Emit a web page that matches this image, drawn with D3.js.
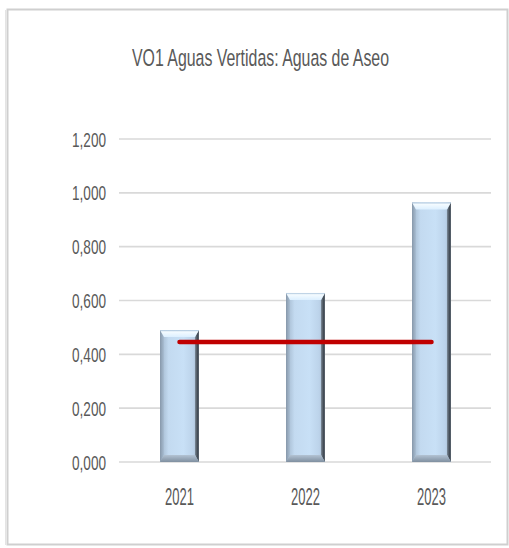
<!DOCTYPE html>
<html>
<head>
<meta charset="utf-8">
<script src="https://cdn.jsdelivr.net/npm/d3@7"></script>
<style>
  html, body { margin: 0; padding: 0; background: #ffffff; }
  svg { display: block; }
  text { font-family: "Liberation Sans", Arial, sans-serif; fill: #595959; }
</style>
</head>
<body>
<div id="chart"></div>
<script>
// Annual values for VO1 (wastewater from cleaning)
const years = ["2021", "2022", "2023"];
const values = [0.490, 0.628, 0.964];
// Reference level drawn as a red line across the years
const reference = [0.446, 0.446, 0.446];
const yTicks = [0, 0.2, 0.4, 0.6, 0.8, 1.0, 1.2];
const title = "VO1 Aguas Vertidas: Aguas de Aseo";

const W = 509, H = 548;
const svg = d3.select("#chart").append("svg").attr("width", W).attr("height", H);

// Chart frame
svg.append("rect").attr("x", 7.5).attr("y", 9.5).attr("width", 500).attr("height", 535)
  .attr("fill", "#fff").attr("stroke", "#cfcfcf").attr("stroke-width", 2);
svg.append("line").attr("x1", 5.5).attr("x2", 5.5).attr("y1", 10).attr("y2", 545)
  .attr("stroke", "#e4e4e4").attr("stroke-width", 1);

const x = d3.scalePoint().domain(years).range([116.5, 494.5]).padding(0.5);
const y = d3.scaleLinear().domain([0, 1.2]).range([462, 139]);
const barW = 39;

// Gridlines
svg.append("g").selectAll("line").data(yTicks).join("line")
  .attr("x1", 119).attr("x2", 491)
  .attr("y1", d => y(d)).attr("y2", d => y(d))
  .attr("stroke", "#d9d9d9").attr("stroke-width", 1.6);

// Y axis labels
const fmt = d => d3.format(".3f")(d).replace(".", ",");
svg.append("g").selectAll("text").data(yTicks).join("text")
  .attr("x", 106).attr("y", d => y(d) + 7.5)
  .attr("text-anchor", "end")
  .attr("font-size", 21)
  .attr("textLength", 34).attr("lengthAdjust", "spacingAndGlyphs")
  .text(fmt);

// X axis labels
svg.append("g").selectAll("text").data(years).join("text")
  .attr("x", d => x(d)).attr("y", 505)
  .attr("text-anchor", "middle")
  .attr("font-size", 24)
  .attr("textLength", 29).attr("lengthAdjust", "spacingAndGlyphs")
  .text(d => d);

// Title
svg.append("text").attr("x", 260.5).attr("y", 66)
  .attr("text-anchor", "middle").attr("font-size", 24.5)
  .attr("textLength", 257).attr("lengthAdjust", "spacingAndGlyphs")
  .text(title);

// Bevelled bar shading
const defs = svg.append("defs");
const body = defs.append("linearGradient").attr("id", "barBody").attr("x1", 0).attr("x2", 1).attr("y1", 0).attr("y2", 0);
[[0, "#9fb4c9"], [0.22, "#c3daf0"], [0.6, "#c8e0f6"], [0.85, "#bcd3ea"], [1, "#9fb3c7"]]
  .forEach(([o, c]) => body.append("stop").attr("offset", o).attr("stop-color", c));
const topG = defs.append("linearGradient").attr("id", "barTop").attr("x1", 0).attr("x2", 0).attr("y1", 0).attr("y2", 1);
[[0, "#a9c3db"], [0.25, "#f4fbff"], [1, "#dcefff"]]
  .forEach(([o, c]) => topG.append("stop").attr("offset", o).attr("stop-color", c));
const rightG = defs.append("linearGradient").attr("id", "barRight").attr("x1", 0).attr("x2", 1).attr("y1", 0).attr("y2", 0);
[[0, "#7d8b99"], [0.6, "#434b54"], [1, "#5b6570"]]
  .forEach(([o, c]) => rightG.append("stop").attr("offset", o).attr("stop-color", c));
const leftG = defs.append("linearGradient").attr("id", "barLeft").attr("x1", 0).attr("x2", 1).attr("y1", 0).attr("y2", 0);
[[0, "#8798aa"], [1, "#a9bed3"]]
  .forEach(([o, c]) => leftG.append("stop").attr("offset", o).attr("stop-color", c));
const botG = defs.append("linearGradient").attr("id", "barBottom").attr("x1", 0).attr("x2", 0).attr("y1", 0).attr("y2", 1);
[[0, "#b3c3d3"], [1, "#7f8fa0"]]
  .forEach(([o, c]) => botG.append("stop").attr("offset", o).attr("stop-color", c));

const bars = svg.append("g").selectAll("g").data(years.map((yr, i) => ({ yr, v: values[i] }))).join("g");
const bev = 7, side = 4;
bars.each(function (d) {
  const g = d3.select(this);
  const x0 = x(d.yr) - barW / 2, x1 = x(d.yr) + barW / 2;
  const yt = y(d.v), yb = y(0);
  const poly = pts => pts.map(p => p.join(",")).join(" ");
  g.append("rect").attr("x", x0).attr("y", yt).attr("width", barW).attr("height", yb - yt).attr("fill", "url(#barBody)");
  g.append("polygon").attr("points", poly([[x0, yt], [x0 + side, yt + bev], [x0 + side, yb - bev], [x0, yb]])).attr("fill", "url(#barLeft)");
  g.append("polygon").attr("points", poly([[x1, yt], [x1, yb], [x1 - side, yb - bev], [x1 - side, yt + bev]])).attr("fill", "url(#barRight)");
  g.append("polygon").attr("points", poly([[x0, yt], [x1, yt], [x1 - side, yt + bev], [x0 + side, yt + bev]])).attr("fill", "url(#barTop)");
  g.append("polygon").attr("points", poly([[x0, yb], [x0 + side, yb - bev], [x1 - side, yb - bev], [x1, yb]])).attr("fill", "url(#barBottom)");
});

// Reference line
const line = d3.line().x((d, i) => x(years[i])).y(d => y(d));
svg.append("path").datum(reference).attr("d", line)
  .attr("fill", "none").attr("stroke", "#c00000").attr("stroke-width", 4.5).attr("stroke-linecap", "round");
</script>
</body>
</html>
